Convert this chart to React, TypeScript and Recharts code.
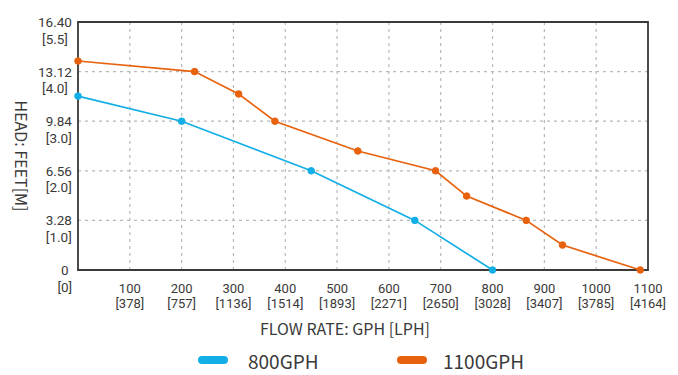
import React from 'react';
import { LineChart, Line, XAxis, YAxis, CartesianGrid, ReferenceArea, Legend } from 'recharts';

// axis ticks and their second-line (metric) labels
const flowTicks = [0, 100, 200, 300, 400, 500, 600, 700, 800, 900, 1000, 1100];
const lphLabels = ['', '378', '757', '1136', '1514', '1893', '2271', '2650', '3028', '3407', '3785', '4164'];
const headTicks = [0, 3.28, 6.56, 9.84, 13.12, 16.4];
const feetLabels = ['0', '3.28', '6.56', '9.84', '13.12', '16.40'];
const meterLabels = ['0', '1.0', '2.0', '3.0', '4.0', '5.5'];

// pump curves: flow (GPH) vs head (feet)
const flow800 = [0, 200, 450, 650, 800];
const head800 = [11.5, 9.84, 6.56, 3.28, 0];
const flow1100 = [0, 225, 310, 380, 540, 690, 750, 865, 935, 1085];
const head1100 = [13.82, 13.12, 11.64, 9.84, 7.87, 6.56, 4.89, 3.28, 1.65, 0];

const seriesNames = ['800GPH', '1100GPH'];
const seriesColors = ['#12aee6', '#e8610d'];

const TEXT = '#3a3a3a';
const FONT = '"Noto Sans CJK JP", "Noto Sans", sans-serif';
const TICK_FONT = 'Roboto, "Noto Sans", sans-serif';

const data800 = flow800.map((f, i) => ({ flow: f, head: head800[i] }));
const data1100 = flow1100.map((f, i) => ({ flow: f, head: head1100[i] }));

function charWidth(c: string) {
  if (c === '.') return 3.6;
  if (c === '[' || c === ']') return 3.4;
  return 7.6;
}
function textWidth(s: string) {
  return s.split('').reduce((w, c) => w + charWidth(c), 0);
}

function FlowTick(props: any) {
  const { x, y, payload } = props;
  const i = flowTicks.indexOf(payload.value);
  if (i <= 0) return <g />;
  return (
    <text x={x} y={y} textAnchor="middle" fill={TEXT} fontSize={13} fontFamily={TICK_FONT}>
      <tspan x={x} dy={22.5}>{payload.value}</tspan>
      <tspan x={x} dy={15.4}>[{lphLabels[i]}]</tspan>
    </text>
  );
}

function HeadTick(props: any) {
  const { x, y, payload } = props;
  const i = headTicks.indexOf(payload.value);
  if (i < 0) return <g />;
  const top = feetLabels[i];
  const bottom = '[' + meterLabels[i] + ']';
  const w = Math.max(textWidth(top), textWidth(bottom));
  const cx = x - 6 - w / 2;
  return (
    <text x={cx} y={y} textAnchor="middle" fill={TEXT} fontSize={13.5} fontFamily={TICK_FONT}>
      <tspan x={cx} dy={5}>{top}</tspan>
      <tspan x={cx} dy={16.6}>{bottom}</tspan>
    </text>
  );
}

function LegendBox() {
  const item = (i: number, width: number, gap: number) => (
    <div style={{ display: 'flex', alignItems: 'center', width }}>
      <span
        style={{
          display: 'inline-block',
          width: 30,
          height: 8,
          borderRadius: 4,
          background: seriesColors[i],
          marginRight: gap,
        }}
      />
      <span style={{ fontSize: 19, color: TEXT, fontFamily: FONT }}>{seriesNames[i]}</span>
    </div>
  );
  return (
    <div style={{ display: 'flex', alignItems: 'center', height: 30, paddingLeft: 190 }}>
      {item(0, 199, 20)}
      {item(1, 150, 16)}
    </div>
  );
}

export default function App() {
  return (
    <div style={{ fontFamily: FONT }}>
      <LineChart width={670} height={367} margin={{ top: 14, right: 30, left: 0, bottom: 0 }}>
        <CartesianGrid stroke="#b8b8b8" strokeDasharray="3 4" strokeWidth={1.2} />
        <XAxis
          dataKey="flow"
          type="number"
          domain={[0, 1100]}
          ticks={flowTicks}
          interval={0}
          height={75}
          axisLine={false}
          tickLine={false}
          tickSize={0}
          tickMargin={0}
          tick={FlowTick}
          label={{
            content: (p: any) => {
              const vb = p.viewBox || { x: 70, y: 262, width: 570, height: 75 };
              return (
                <text
                  x={vb.x + vb.width / 2 - 18}
                  y={vb.y + 65}
                  textAnchor="middle"
                  fill={TEXT}
                  fontSize={16}
                  fontFamily={FONT}
                >
                  FLOW RATE: GPH [LPH]
                </text>
              );
            },
          }}
        />
        <YAxis
          type="number"
          domain={[0, 16.4]}
          ticks={headTicks}
          interval={0}
          width={70}
          axisLine={false}
          tickLine={false}
          tickSize={0}
          tickMargin={0}
          tick={HeadTick}
          label={{
            content: (p: any) => {
              const vb = p.viewBox || { x: 0, y: 14, width: 70, height: 248 };
              const cx = vb.x + 14;
              const cy = vb.y + vb.height / 2 + 10;
              return (
                <text
                  x={cx}
                  y={cy}
                  transform={`rotate(90 ${cx} ${cy})`}
                  textAnchor="middle"
                  dominantBaseline="central"
                  fill={TEXT}
                  fontSize={16}
                  fontFamily={FONT}
                >
                  HEAD: FEET[M]
                </text>
              );
            },
          }}
        />
        <ReferenceArea x1={0} x2={1100} y1={0} y2={16.4} fill="none" stroke="#3a3a3a" strokeWidth={1.8} />
        <Legend verticalAlign="bottom" content={() => <LegendBox />} />
        <Line
          data={data800}
          dataKey="head"
          name={seriesNames[0]}
          type="linear"
          stroke={seriesColors[0]}
          strokeWidth={1.7}
          dot={{ r: 3.3, fill: seriesColors[0], stroke: seriesColors[0], strokeWidth: 1 }}
          activeDot={false}
          isAnimationActive={false}
        />
        <Line
          data={data1100}
          dataKey="head"
          name={seriesNames[1]}
          type="linear"
          stroke={seriesColors[1]}
          strokeWidth={1.7}
          dot={{ r: 3.3, fill: seriesColors[1], stroke: seriesColors[1], strokeWidth: 1 }}
          activeDot={false}
          isAnimationActive={false}
        />
      </LineChart>
    </div>
  );
}
